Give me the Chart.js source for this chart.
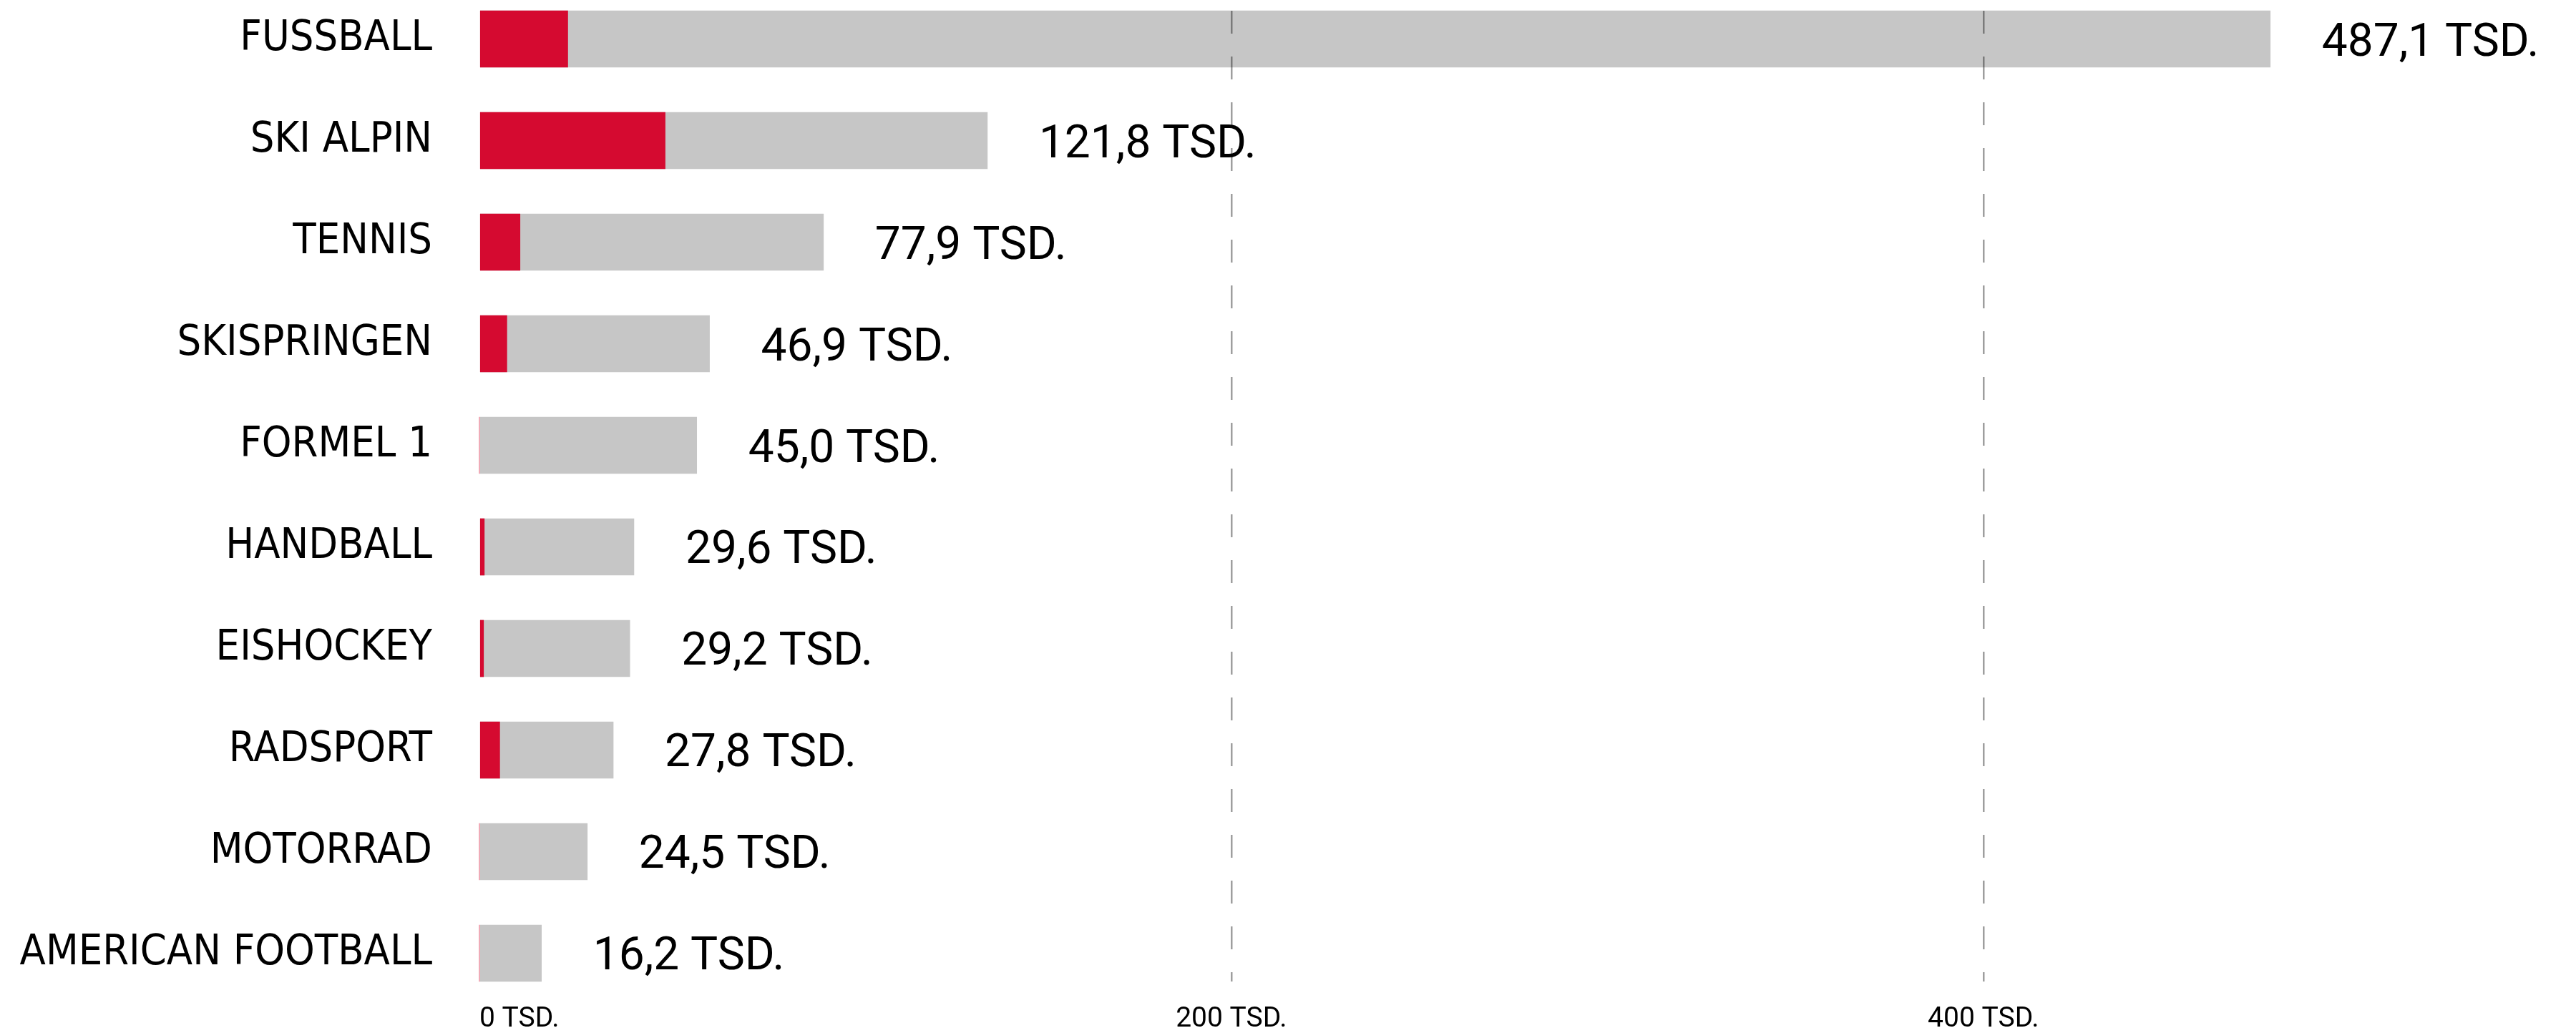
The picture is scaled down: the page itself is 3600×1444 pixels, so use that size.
<!DOCTYPE html>
<html lang="de">
<head>
<meta charset="utf-8">
<title>Sportarten</title>
<script src="https://cdn.jsdelivr.net/npm/chart.js@4.4.1/dist/chart.umd.min.js"></script>
<style>
  html, body { margin: 0; padding: 0; background: #fff; }
  #chart { display: block; }
</style>
</head>
<body>
<canvas id="chart" width="3600" height="1444"></canvas>
<script>
// --- Daten ---
const sports = ['FUSSBALL', 'SKI ALPIN', 'TENNIS', 'SKISPRINGEN', 'FORMEL 1', 'HANDBALL', 'EISHOCKEY', 'RADSPORT', 'MOTORRAD', 'AMERICAN FOOTBALL'];
const totalValues = [476.3, 135.1, 91.5, 61.2, 57.8, 41.1, 40.0, 35.6, 28.7, 16.5];
const redValues = [23.5, 49.4, 10.8, 7.3, 0, 1.3, 1.1, 5.4, 0, 0];
const valueLabels = ['487,1 TSD.', '121,8 TSD.', '77,9 TSD.', '46,9 TSD.', '45,0 TSD.', '29,6 TSD.', '29,2 TSD.', '27,8 TSD.', '24,5 TSD.', '16,2 TSD.'];
const xTicks = [0, 200, 400];
const xMax = 550;

// --- Farben / Schriften ---
const colors = {
    red: '#d50a30',
    grey: '#c6c6c6',
    grid: 'rgba(0, 0, 0, 0.38)',
    text: '#000000'
};
const labelFont = "'DejaVu Sans Condensed', 'DejaVu Sans', sans-serif";
const numberFont = "Roboto, 'Open Sans', sans-serif";

// Werte-Beschriftung rechts neben den Balken (nach dem Gitter gezeichnet)
const valueLabelPlugin = {
    id: 'valueLabels',
    afterDraw(chart) {
        const meta = chart.getDatasetMeta(1);
        const ctx = chart.ctx;
        ctx.save();
        ctx.font = `400 64px ${numberFont}`;
        ctx.fillStyle = colors.text;
        ctx.textAlign = 'left';
        ctx.textBaseline = 'alphabetic';
        meta.data.forEach((bar, i) => {
            ctx.fillText(valueLabels[i], bar.x + 72, bar.y + 23);
        });
        ctx.restore();
    }
};

const toPoints = (values) => values.map((v, i) => ({ x: v, y: i }));

new Chart(document.getElementById('chart').getContext('2d'), {
    type: 'bar',
    data: {
        datasets: [
            {
                label: 'Anteil',
                data: toPoints(redValues),
                backgroundColor: colors.red,
                barThickness: 79,
                grouped: false,
                clip: false
            },
            {
                label: 'Gesamt',
                data: toPoints(totalValues),
                backgroundColor: colors.grey,
                barThickness: 79,
                grouped: false,
                clip: false
            }
        ]
    },
    options: {
        indexAxis: 'y',
        responsive: false,
        devicePixelRatio: 1,
        animation: false,
        layout: { padding: { top: 15, right: 40, left: 0, bottom: 0 } },
        plugins: {
            legend: { display: false },
            tooltip: { enabled: false }
        },
        scales: {
            x: {
                type: 'linear',
                min: 0,
                max: xMax,
                afterBuildTicks: (scale) => {
                    scale.ticks = [...xTicks, xMax].map(v => ({ value: v }));
                },
                afterFit: (scale) => { scale.height = 72; },
                ticks: {
                    autoSkip: false,
                    maxRotation: 0,
                    align: 'inner',
                    padding: 30,
                    color: colors.text,
                    font: { family: numberFont, size: 39 },
                    callback: (v) => (v === xMax ? '' : `${v} TSD.`)
                },
                grid: {
                    z: 1, // Gitterlinien über den Balken
                    drawTicks: false,
                    lineWidth: 2.5,
                    color: (c) => (c.tick && c.tick.value > 0 && c.tick.value < xMax) ? colors.grid : 'rgba(0,0,0,0)'
                },
                border: { display: false, dash: [32, 32] }
            },
            y: {
                type: 'linear',
                reverse: true,
                offset: false,
                min: -0.2782,
                max: sports.length - 1 + 0.2782,
                afterBuildTicks: (scale) => {
                    scale.ticks = sports.map((s, i) => ({ value: i }));
                },
                afterFit: (scale) => {
                    scale.width = 670;
                    scale.paddingTop = 0;
                    scale.paddingBottom = 0;
                },
                ticks: {
                    autoSkip: false,
                    padding: 66,
                    color: colors.text,
                    font: { family: labelFont, size: 59 },
                    callback: (v) => sports[v]
                },
                grid: { display: false, drawTicks: false, offset: false },
                border: { display: false }
            }
        }
    },
    plugins: [valueLabelPlugin]
});
</script>
</body>
</html>
